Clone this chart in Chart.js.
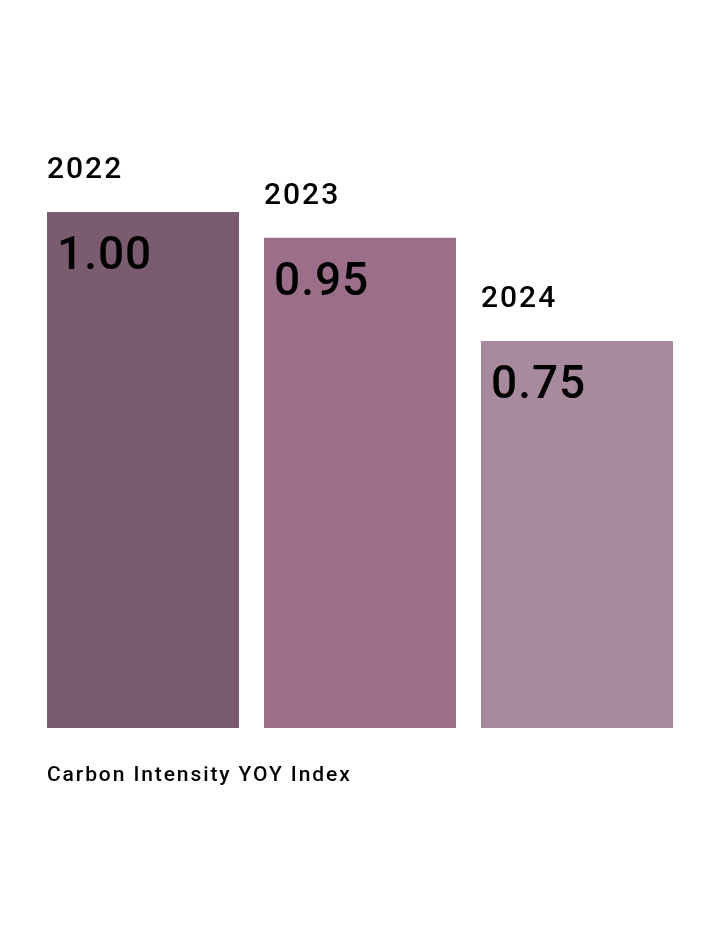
<!DOCTYPE html>
<html>
<head>
<meta charset="utf-8">
<script src="https://cdn.jsdelivr.net/npm/chart.js@4.4.1/dist/chart.umd.min.js"></script>
<style>
  html, body { margin: 0; padding: 0; background: #fff; }
  #wrap { width: 720px; height: 933px; }
</style>
</head>
<body>
<div id="wrap"><canvas id="intensityChart" width="720" height="933"></canvas></div>
<script>
// carbon intensity index per year
const years = ['2022', '2023', '2024'];
const indexValues = [1.00, 0.95, 0.75];
const valueLabels = ['1.00', '0.95', '0.75'];
const barColors = ['#7b5b6f', '#9b6f8a', '#a78a9e'];
const chartTitle = 'Carbon Intensity YOY Index';

const FONT = 'Roboto, "Liberation Sans", Arial, sans-serif';

const labelPlugin = {
  id: 'barLabels',
  afterDatasetsDraw(chart) {
    const ctx = chart.ctx;
    const meta = chart.getDatasetMeta(0);
    ctx.save();
    ctx.fillStyle = '#000';
    ctx.textAlign = 'left';
    ctx.textBaseline = 'alphabetic';
    meta.data.forEach((bar, i) => {
      const left = bar.x - bar.width / 2;
      // year above the bar
      ctx.font = '500 30px ' + FONT;
      ctx.letterSpacing = '2px';
      ctx.fillText(years[i], left, bar.y - 34);
      // value inside the bar
      ctx.font = '500 46px ' + FONT;
      ctx.letterSpacing = '1px';
      ctx.fillText(valueLabels[i], left + 10, bar.y + 57);
    });
    // caption under the bars
    const first = meta.data[0];
    ctx.font = '500 21px ' + FONT;
    ctx.letterSpacing = '1.9px';
    ctx.fillText(chartTitle, first.x - first.width / 2, chart.chartArea.bottom + 53);
    ctx.restore();
  }
};

new Chart(document.getElementById('intensityChart').getContext('2d'), {
  type: 'bar',
  data: {
    labels: years,
    datasets: [{
      data: indexValues,
      backgroundColor: barColors,
      borderWidth: 0,
      categoryPercentage: 1,
      barPercentage: 192 / 217
    }]
  },
  options: {
    responsive: false,
    animation: false,
    layout: { padding: { top: 212, bottom: 205, left: 34.5, right: 34.5 } },
    scales: {
      x: { display: false },
      y: { display: false, min: 0, max: 1 }
    },
    plugins: {
      legend: { display: false },
      tooltip: { enabled: false }
    }
  },
  plugins: [labelPlugin]
});
</script>
</body>
</html>
